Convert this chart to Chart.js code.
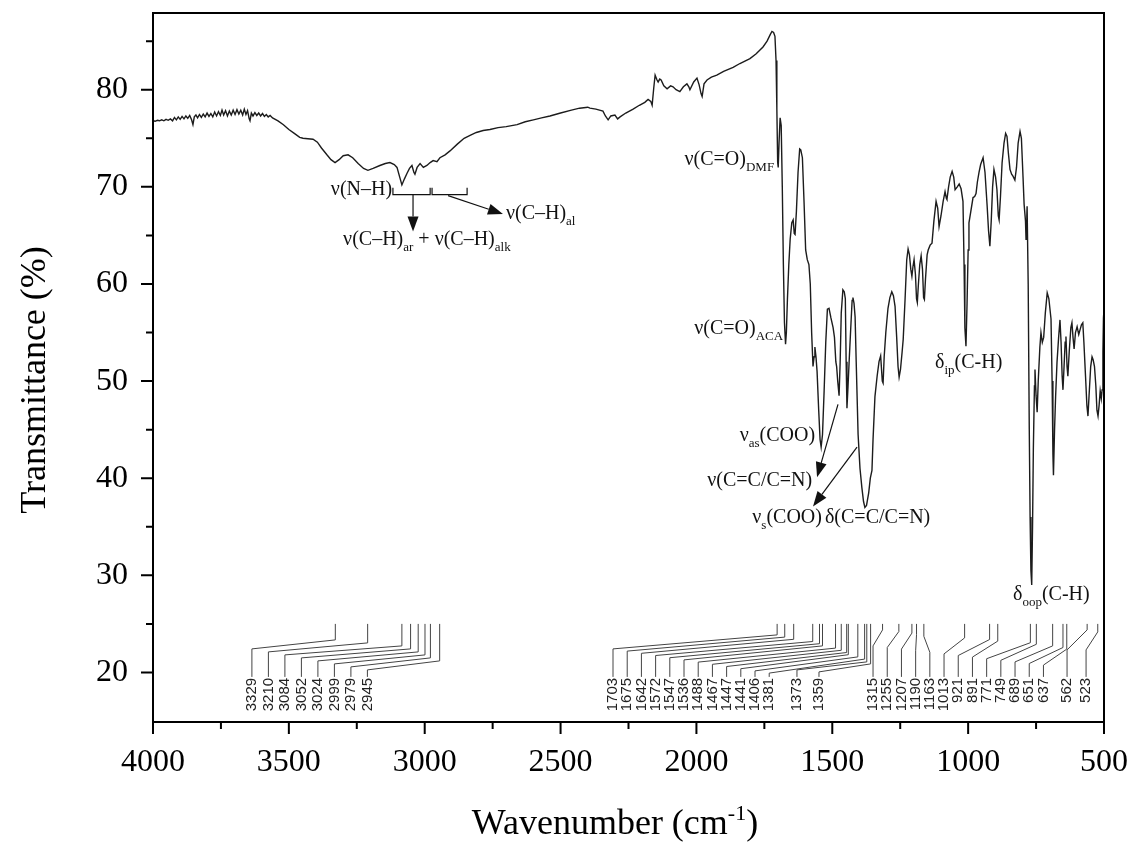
<!DOCTYPE html>
<html>
<head>
<meta charset="utf-8">
<script src="https://cdn.jsdelivr.net/npm/chart.js@4.4.1/dist/chart.umd.min.js"></script>
<style>
  html, body { margin: 0; padding: 0; background: #fff; }
  #wrap { width: 1133px; height: 846px; position: relative; }
</style>
</head>
<body>
<div id="wrap"><canvas id="irChart"></canvas></div>
<script>
// IR spectrum (cm-1 / % transmittance)
const wavenumber = [
  4000, 3992, 3984, 3976, 3968, 3960, 3952, 3944, 3936, 3928, 3921, 3914, 3907, 3900, 3893, 3886, 3879, 3872,
  3865, 3858, 3853, 3848, 3842, 3836, 3829, 3822, 3815, 3808, 3801, 3794, 3787, 3780, 3773, 3766, 3759, 3752,
  3746, 3740, 3733, 3726, 3719, 3712, 3705, 3698, 3691, 3684, 3677, 3670, 3664, 3658, 3652, 3646, 3643, 3638,
  3632, 3625, 3618, 3611, 3604, 3597, 3590, 3583, 3576, 3569, 3560,
  3540, 3520, 3500, 3480, 3460, 3448, 3430, 3411, 3395, 3380, 3360, 3345, 3330, 3315, 3300, 3282, 3265, 3245,
  3225, 3209, 3190, 3165, 3145, 3128, 3112, 3102, 3092, 3084, 3075, 3065, 3056, 3047, 3040, 3036, 3028, 3017,
  3005, 2992, 2980, 2969, 2955, 2944, 2925, 2907, 2880, 2855, 2833, 2810, 2785, 2760, 2730, 2700, 2660, 2630,
  2600, 2570, 2539, 2500, 2460, 2430, 2400,
  2392, 2370, 2344, 2335, 2325, 2315, 2300, 2290, 2281, 2260, 2233, 2210, 2190, 2178, 2168, 2163, 2157, 2152,
  2145, 2141, 2135, 2130, 2120, 2108, 2095, 2086, 2075, 2061, 2048, 2035, 2028, 2024, 2010, 1998, 1990, 1983,
  1979, 1972, 1961, 1945, 1925, 1900, 1865, 1840, 1803, 1780, 1755, 1740, 1728, 1722, 1716, 1711, 1707, 1704,
  1701, 1699, 1696, 1692, 1688, 1684, 1680, 1676, 1672, 1669, 1665, 1660, 1655, 1649, 1644, 1640, 1637, 1632,
  1626, 1620, 1616, 1610, 1604, 1598, 1592, 1586, 1581, 1576, 1571, 1567, 1564, 1560, 1556, 1550, 1545, 1541,
  1536, 1530, 1524, 1518, 1512, 1505, 1497, 1492, 1487, 1484, 1480, 1475, 1471, 1467, 1461, 1456, 1452, 1449,
  1446, 1442, 1438, 1432, 1427, 1424, 1420, 1416, 1412, 1405, 1398, 1391, 1385, 1380, 1374, 1366, 1360, 1354,
  1350, 1343, 1335, 1328, 1322, 1316, 1313, 1309, 1303, 1295, 1288, 1281, 1275, 1269, 1263, 1258, 1254, 1249,
  1243, 1239, 1232, 1226, 1221, 1216, 1211, 1207, 1203, 1199, 1194, 1190, 1187, 1183, 1178, 1173, 1168, 1164,
  1161, 1157, 1151, 1147, 1140, 1133, 1126, 1118, 1112, 1107, 1100, 1092, 1085, 1080, 1078, 1072, 1066, 1059,
  1053, 1048, 1040, 1033, 1026, 1019, 1015, 1012, 1008, 1004, 1000, 997, 990, 982, 976, 971, 966, 960,
  954, 945, 938, 930, 925, 920, 915, 910, 905, 899, 894, 889, 886, 881, 875, 868, 862, 857,
  852, 846, 840, 835, 828, 822, 816, 809, 804, 798, 794, 789, 787, 784, 783, 779, 775, 772,
  769, 766, 763, 760, 756, 754, 750, 746, 742, 736, 732, 727, 722, 716, 709, 703, 695, 691,
  688, 686, 682, 678, 673, 667, 662, 658, 654, 651, 647, 643, 640, 636, 633, 628, 622, 618,
  614, 610, 605, 599, 593, 588, 583, 578, 574, 568, 563, 559, 555, 549, 544, 540, 535, 530,
  526, 522, 518, 514, 510, 507, 504, 502, 500
];
const transmittance = [
  76.8, 76.75, 76.85, 76.8, 76.9, 76.8, 76.95, 76.85, 77.0, 76.8, 77.15, 76.9, 77.2, 76.95, 77.25, 77.0, 77.3, 77.05,
  77.35, 76.9, 76.4, 77.2, 77.4, 77.1, 77.45, 77.15, 77.5, 77.2, 77.6, 77.25, 77.55, 77.2, 77.7, 77.3, 77.75, 77.35,
  77.9, 77.4, 77.85, 77.3, 77.8, 77.4, 77.9, 77.45, 77.95, 77.5, 77.9, 77.4, 78.0, 77.45, 77.85, 77.0, 76.8, 77.6,
  77.3, 77.65, 77.35, 77.6, 77.3, 77.55, 77.25, 77.45, 77.2, 77.35, 77.1,
  76.8, 76.4, 75.9, 75.5, 75.1, 75.0, 74.95, 74.9, 74.6, 74.0, 73.3, 72.8, 72.5, 72.8, 73.2, 73.3, 73.0, 72.4,
  71.9, 71.7, 71.9, 72.2, 72.4, 72.5, 72.3, 72.0, 71.0, 70.2, 70.8, 71.4, 71.9, 72.2, 71.5, 71.3, 72.0, 72.4,
  72.0, 72.2, 72.5, 72.7, 72.6, 73.0, 73.3, 73.7, 74.4, 75.0, 75.3, 75.6, 75.8, 75.9, 76.1, 76.2, 76.4, 76.7,
  76.9, 77.1, 77.3, 77.6, 77.9, 78.1, 78.2,
  78.1, 78.0, 77.8, 77.3, 76.9, 77.3, 77.4, 77.0, 77.2, 77.6, 78.0, 78.4, 78.7, 79.0, 78.8, 78.4, 80.2, 81.5,
  81.0, 80.8, 81.1, 81.0, 80.4, 80.1, 80.4, 80.3, 80.0, 79.8, 80.3, 80.6, 80.3, 80.0, 80.8, 81.2, 80.5, 79.6,
  79.3, 80.6, 81.0, 81.3, 81.5, 81.9, 82.3, 82.7, 83.2, 83.7, 84.4, 85.0, 85.7, 86.0, 85.9, 85.5, 83.0, 78.0,
  72.5, 72.0, 74.5, 77.1, 76.3, 70.0, 62.0, 56.0, 53.8, 55.0, 58.5, 62.0, 64.6, 66.3, 66.6, 65.2, 65.1, 67.5,
  71.5, 73.9, 73.8, 73.0, 68.5, 63.5, 62.5, 62.0, 60.0, 55.0, 51.5, 52.5, 53.5, 52.5, 51.0, 47.0, 44.0, 43.2,
  44.5, 49.0, 54.0, 57.4, 57.5, 56.5, 55.5, 54.5, 52.0, 51.5, 50.0, 48.5, 52.0, 57.0, 59.4, 59.2, 58.5, 52.0,
  47.2, 49.5, 52.0, 55.5, 58.3, 58.6, 58.0, 56.6, 52.0, 44.5, 41.0, 39.0, 37.6, 37.0, 37.2, 38.5, 40.0, 40.8,
  44.0, 48.4, 50.5, 52.0, 52.6, 50.0, 49.8, 52.5, 55.0, 57.5, 58.6, 59.2, 58.8, 57.7, 54.5, 51.5, 50.4, 51.2,
  53.0, 54.3, 58.5, 62.5, 63.6, 63.0, 61.5, 60.8, 61.8, 62.5, 61.0, 58.5, 58.1, 60.0, 62.0, 62.9, 61.5, 58.6,
  58.4, 60.5, 63.0, 63.5, 64.0, 64.2, 66.5, 68.5, 67.8, 65.9, 67.0, 68.5, 69.5, 68.8, 68.7, 70.0, 71.0, 71.6,
  71.0, 69.7, 70.0, 70.3, 69.8, 68.5, 62.0, 55.5, 53.6, 58.0, 63.5, 66.3, 67.5, 68.9, 69.0, 69.3, 70.5, 71.5,
  72.3, 73.0, 71.5, 68.0, 65.5, 63.9, 66.5, 70.0, 71.8, 71.0, 69.7, 67.0, 66.6, 69.0, 72.5, 74.5, 75.5, 75.2,
  73.5, 71.8, 71.3, 71.1, 70.7, 72.0, 74.5, 75.7, 75.0, 71.0, 68.2, 66.5, 64.6, 67.0, 68.0, 60.0, 45.0, 36.0,
  30.5, 29.0, 35.0, 43.0, 49.5, 51.2, 48.5, 46.8, 50.0, 53.5, 55.0, 54.0, 54.5, 57.0, 59.1, 58.5, 56.4, 50.0,
  42.5, 40.3, 45.0, 48.5, 51.9, 54.5, 56.3, 54.0, 50.5, 49.1, 51.5, 54.0, 54.6, 51.5, 50.5, 53.0, 55.5, 56.0,
  54.5, 53.3, 55.0, 55.6, 54.8, 55.3, 55.8, 56.0, 54.0, 50.5, 47.5, 46.4, 48.5, 51.5, 52.5, 52.2, 51.5, 49.5,
  47.0, 46.4, 47.5, 49.0, 48.2, 49.1, 53.0, 56.5, 57.4
];

const xTicks = [4000, 3500, 3000, 2500, 2000, 1500, 1000, 500];
const yTicks = [20, 30, 40, 50, 60, 70, 80];

// peak positions printed at the bottom, grouped as they are laid out
const peakGroups = [
  [3329, 3210, 3084, 3052, 3024, 2999, 2979, 2945],
  [1703, 1675, 1642, 1572, 1547, 1536, 1488, 1467, 1447, 1441, 1406, 1381],
  [1373],
  [1359],
  [1315, 1255, 1207, 1190, 1163, 1013, 921, 891, 771, 749, 689, 651, 637],
  [562],
  [523]
];
// where each group's label column starts (cm-1), gap between labels (px), bends below leader top (px)
const groupLayout = [
  { at: 3636, gap: 16.5, d1: 16, d2: 25, k: 3 },
  { at: 2307, gap: 14.2, d1: 11, d2: 25, k: 2.2 },
  { at: 1630, gap: 0, d1: 38, d2: 46, k: 0 },
  { at: 1549, gap: 0, d1: 40, d2: 48, k: 0 },
  { at: 1350, gap: 14.2, d1: 6, d2: 22, k: 1.6 },
  { at: 636, gap: 0, d1: 6, d2: 26, k: 0 },
  { at: 566, gap: 0, d1: 8, d2: 26, k: 0 }
];
const leaderTop = 25;   // % where the leader lines start

const notes = [
  { parts: [['ν(N–H)']], x: 3120, y: 69.2, align: 'right' },
  { parts: [['ν(C–H)'], ['ar', 1], [' + ν(C–H)'], ['alk', 1]], x: 2992, y: 64.0, align: 'center' },
  { parts: [['ν(C–H)'], ['al', 1]], x: 2701, y: 66.7, align: 'left' },
  { parts: [['ν(C=O)'], ['DMF', 1]], x: 1714, y: 72.3, align: 'right' },
  { parts: [['ν(C=O)'], ['ACA', 1]], x: 1681, y: 54.8, align: 'right' },
  { parts: [['ν'], ['as', 1], ['(COO)']], x: 1563, y: 43.8, align: 'right' },
  { parts: [['ν(C=C/C=N)']], x: 1574, y: 39.2, align: 'right' },
  { parts: [['ν'], ['s', 1], ['(COO)']], x: 1538, y: 35.35, align: 'right' },
  { parts: [['δ(C=C/C=N)']], x: 1527, y: 35.35, align: 'left' },
  { parts: [['δ'], ['ip', 1], ['(C-H)']], x: 1122, y: 51.3, align: 'left' },
  { parts: [['δ'], ['oop', 1], ['(C-H)']], x: 835, y: 27.5, align: 'left' }
];
const arrows = [
  [3043, 69.2, 3043, 65.4],
  [2914, 69.1, 2712, 67.2],
  [1479, 47.6, 1556, 40.1],
  [1409, 43.2, 1571, 37.1]
];
const brackets = [[3117, 2980], [2973, 2844]];

const serif = "'Liberation Serif', 'Times New Roman', serif";

function drawRich(ctx, parts, x, y, align) {
  const big = '20px ' + serif, small = '13px ' + serif;
  let w = 0;
  parts.forEach(p => { ctx.font = p[1] ? small : big; w += ctx.measureText(p[0]).width; });
  let cx = align === 'right' ? x - w : align === 'center' ? x - w / 2 : x;
  parts.forEach(p => {
    ctx.font = p[1] ? small : big;
    ctx.fillText(p[0], cx, p[1] ? y + 6 : y);
    cx += ctx.measureText(p[0]).width;
  });
}

function arrow(ctx, x1, y1, x2, y2) {
  const a = Math.atan2(y2 - y1, x2 - x1), L = 15, W = 5.5;
  const bx = x2 - L * Math.cos(a), by = y2 - L * Math.sin(a);
  ctx.beginPath(); ctx.moveTo(x1, y1); ctx.lineTo(bx, by); ctx.stroke();
  ctx.beginPath();
  ctx.moveTo(x2, y2);
  ctx.lineTo(bx + W * Math.sin(a), by - W * Math.cos(a));
  ctx.lineTo(bx - W * Math.sin(a), by + W * Math.cos(a));
  ctx.closePath(); ctx.fill();
}

const decorations = {
  id: 'decorations',
  afterDatasetsDraw(chart) {
    const ctx = chart.ctx, xs = chart.scales.x, ys = chart.scales.y;
    const X = v => xs.getPixelForValue(v), Y = v => ys.getPixelForValue(v);
    ctx.save();
    ctx.fillStyle = '#111';
    ctx.strokeStyle = '#111';

    // band assignments
    ctx.textAlign = 'left';
    ctx.textBaseline = 'alphabetic';
    notes.forEach(n => drawRich(ctx, n.parts, X(n.x), Y(n.y), n.align));

    ctx.lineWidth = 1.2;
    brackets.forEach(b => {
      ctx.beginPath();
      ctx.moveTo(X(b[0]), Y(69.9)); ctx.lineTo(X(b[0]), Y(69.2));
      ctx.lineTo(X(b[1]), Y(69.2)); ctx.lineTo(X(b[1]), Y(69.9));
      ctx.stroke();
    });
    arrows.forEach(a => arrow(ctx, X(a[0]), Y(a[1]), X(a[2]), Y(a[3])));

    // peak position labels with leader lines
    const top = Y(leaderTop), end = top + 53;
    ctx.strokeStyle = '#444';
    ctx.lineWidth = 1;
    ctx.fillStyle = '#222';
    ctx.font = "15px 'Liberation Sans', Arial, sans-serif";
    peakGroups.forEach((grp, g) => {
      const lay = groupLayout[g];
      grp.forEach((p, i) => {
        const px = X(p), lx = X(lay.at) + i * lay.gap;
        const b1 = top + lay.d1 + i * lay.k, b2 = top + lay.d2 + i * lay.k;
        ctx.beginPath();
        ctx.moveTo(px, top); ctx.lineTo(px, b1);
        ctx.lineTo(lx, b2); ctx.lineTo(lx, end);
        ctx.stroke();
        ctx.save();
        ctx.translate(lx, end + 1);
        ctx.rotate(-Math.PI / 2);
        ctx.textAlign = 'right';
        ctx.textBaseline = 'middle';
        ctx.fillText(String(p), 0, 0);
        ctx.restore();
      });
    });
    ctx.restore();
  },
  afterDraw(chart) {
    const ctx = chart.ctx, a = chart.chartArea, xs = chart.scales.x, ys = chart.scales.y;
    ctx.save();
    ctx.strokeStyle = '#000';
    ctx.lineWidth = 2;
    ctx.strokeRect(a.left, a.top, a.right - a.left, a.bottom - a.top);
    ctx.beginPath();
    xTicks.forEach((v, i) => {
      const px = xs.getPixelForValue(v);
      ctx.moveTo(px, a.bottom); ctx.lineTo(px, a.bottom + 12);
      if (i < xTicks.length - 1) {
        const m = xs.getPixelForValue((v + xTicks[i + 1]) / 2);
        ctx.moveTo(m, a.bottom); ctx.lineTo(m, a.bottom + 7);
      }
    });
    yTicks.forEach(v => {
      const py = ys.getPixelForValue(v);
      ctx.moveTo(a.left, py); ctx.lineTo(a.left - 12, py);
      const m = ys.getPixelForValue(v + 5);
      ctx.moveTo(a.left, m); ctx.lineTo(a.left - 7, m);
    });
    ctx.stroke();

    // axis titles
    ctx.fillStyle = '#000';
    ctx.font = '36px ' + serif;
    ctx.textBaseline = 'middle';
    ctx.textAlign = 'center';
    ctx.save();
    ctx.translate(36, 380);
    ctx.rotate(-Math.PI / 2);
    ctx.fillText('Transmittance (%)', 0, 0);
    ctx.restore();

    ctx.textBaseline = 'alphabetic';
    ctx.textAlign = 'left';
    const t1 = 'Wavenumber (cm', sup = '-1', t2 = ')';
    ctx.font = '36px ' + serif;
    const w1 = ctx.measureText(t1).width, w3 = ctx.measureText(t2).width;
    ctx.font = '22px ' + serif;
    const w2 = ctx.measureText(sup).width;
    let x = 615 - (w1 + w2 + w3) / 2;
    const base = 834;
    ctx.font = '36px ' + serif;
    ctx.fillText(t1, x, base); x += w1;
    ctx.font = '22px ' + serif;
    ctx.fillText(sup, x, base - 14); x += w2;
    ctx.font = '36px ' + serif;
    ctx.fillText(t2, x, base);
    ctx.restore();
  }
};

const points = wavenumber.map((w, i) => ({ x: w, y: transmittance[i] }));

new Chart(document.getElementById('irChart'), {
  type: 'line',
  data: {
    datasets: [{
      data: points,
      borderColor: '#1c1c1c',
      borderWidth: 1.4,
      pointRadius: 0,
      tension: 0,
      fill: false
    }]
  },
  options: {
    responsive: true,
    maintainAspectRatio: false,
    animation: false,
    layout: { padding: { top: 13, right: 29, left: 0, bottom: 0 } },
    plugins: { legend: { display: false }, tooltip: { enabled: false } },
    scales: {
      x: {
        type: 'linear',
        reverse: true,
        min: 500,
        max: 4000,
        afterBuildTicks: s => { s.ticks = xTicks.map(v => ({ value: v })); },
        afterFit: s => { s.height = 124; s.paddingLeft = 0; s.paddingRight = 0; },
        grid: { display: true, drawOnChartArea: false, tickLength: 12, color: 'transparent' },
        border: { display: false },
        ticks: { font: { family: serif, size: 32 }, color: '#000', padding: 9, maxRotation: 0, callback: v => String(v) }
      },
      y: {
        min: 14.9,
        max: 87.9,
        afterBuildTicks: s => { s.ticks = yTicks.map(v => ({ value: v })); },
        afterFit: s => { s.width = 153; s.paddingTop = 0; s.paddingBottom = 0; },
        grid: { display: true, drawOnChartArea: false, tickLength: 12, color: 'transparent' },
        border: { display: false },
        ticks: { font: { family: serif, size: 32 }, color: '#000', padding: 13, callback: v => String(v) }
      }
    }
  },
  plugins: [decorations]
});
</script>
</body>
</html>
